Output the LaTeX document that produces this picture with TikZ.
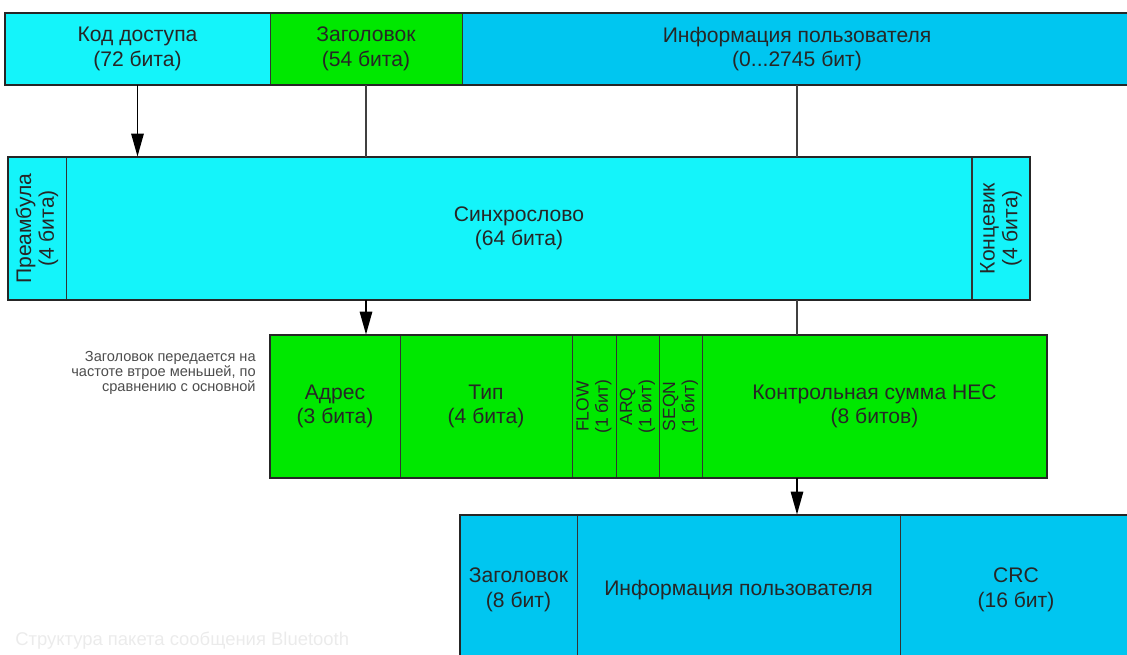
\documentclass[tikz,border=0pt]{standalone}
\usepackage{fontspec}
\setmainfont{Liberation Sans}
\usetikzlibrary{arrows.meta}

\definecolor{accesscyan}{RGB}{20,244,250}
\definecolor{headgreen}{RGB}{0,232,0}
\definecolor{infoblue}{RGB}{0,198,240}

\begin{document}
\begin{tikzpicture}[x=0.02cm, y=-0.02cm, >={Triangle[length=13pt,width=7pt]},
    field/.style={draw=black!80, line width=0.5pt, inner sep=0pt, align=center,
        text=black!85, font=\fontsize{12}{14}\selectfont},
    slim/.style={rotate=90, align=center, inner sep=0pt, text=black!85,
        font=\fontsize{10}{11}\selectfont},
    frame/.style={draw=black!85, line width=1.2pt},
    link/.style={draw=black!75, line width=0.6pt},
    flowarrow/.style={->, draw=black, line width=1pt}]
    \useasboundingbox (0,0) rectangle (1127,655);
    \clip (0,0) rectangle (1127,655);

    % Top: packet
    \node[field, fill=accesscyan, minimum width=5.3cm, minimum height=1.44cm] (access) at (137.5,49) {Код доступа\\(72 бита)};
    \node[field, fill=headgreen, minimum width=3.84cm, minimum height=1.44cm] (head) at (366,49) {Заголовок\\(54 бита)};
    \node[field, fill=infoblue, minimum width=13.4cm, minimum height=1.44cm] (info) at (797,49) {Информация пользователя\\(0...2745 бит)};
    \draw[frame] (access.north west) rectangle (info.south east);

    % Access code
    \node[field, fill=accesscyan, minimum width=1.16cm, minimum height=2.86cm] (pre) at (37,228.5) {};
    \node[field, fill=accesscyan, minimum width=18.12cm, minimum height=2.86cm] (sync) at (519,228.5) {Синхрослово\\(64 бита)};
    \node[field, fill=accesscyan, minimum width=1.16cm, minimum height=2.86cm] (tail) at (1001,228.5) {};
    \node[slim, font=\fontsize{12}{13}\selectfont] (prelabel) at (pre) {Преамбула\\(4 бита)};
    \node[slim, font=\fontsize{12}{13}\selectfont] (taillabel) at (tail) {Концевик\\(4 бита)};
    \draw[frame] (pre.north west) rectangle (tail.south east);

    % Header
    \node[field, fill=headgreen, minimum width=2.6cm, minimum height=2.86cm] (addr) at (335,406.5) {Адрес\\(3 бита)};
    \node[field, fill=headgreen, minimum width=3.44cm, minimum height=2.86cm] (type) at (486,406.5) {Тип\\(4 бита)};
    \node[field, fill=headgreen, minimum width=0.88cm, minimum height=2.86cm] (flow) at (594,406.5) {};
    \node[field, fill=headgreen, minimum width=0.86cm, minimum height=2.86cm] (arq) at (637.5,406.5) {};
    \node[field, fill=headgreen, minimum width=0.86cm, minimum height=2.86cm] (seqn) at (680.5,406.5) {};
    \node[field, fill=headgreen, minimum width=6.9cm, minimum height=2.86cm] (hec) at (874.5,406.5) {Контрольная сумма HEC\\(8 битов)};
    \node[slim] (flowlabel) at (flow) {FLOW\\(1 бит)};
    \node[slim] (arqlabel) at (arq) {ARQ\\(1 бит)};
    \node[slim] (seqnlabel) at (seqn) {SEQN\\(1 бит)};
    \draw[frame] (addr.north west) rectangle (hec.south east);

    \node[anchor=north east, align=right, inner sep=0pt, text=black!70,
        font=\fontsize{8.3}{8.6}\selectfont] (headnote) at (256,351)
        {Заголовок передается на\\частоте втрое меньшей, по\\сравнению с основной};

    % Payload
    \node[field, fill=infoblue, minimum width=2.34cm, minimum height=3cm] (plhead) at (518.5,590) {Заголовок\\(8 бит)};
    \node[field, fill=infoblue, minimum width=6.46cm, minimum height=3cm] (pldata) at (738.5,590) {Информация пользователя};
    \node[field, fill=infoblue, minimum width=4.64cm, minimum height=3cm] (crc) at (1016,590) {CRC\\(16 бит)};
    \draw[frame] (plhead.north west) rectangle (crc.south east);

    \node[anchor=west, inner sep=0pt, text=black!8, font=\fontsize{10.5}{12}\selectfont] (caption) at (15,641)
        {Структура пакета сообщения Bluetooth};

    % Connectors
    \draw[flowarrow] (access.south) -- (access.south |- sync.north);
    \draw[link] (head.south) -- (head.south |- sync.north);
    \draw[link] (info.south) -- (info.south |- sync.north);
    \draw[flowarrow] (head.south |- sync.south) -- (head.south |- type.north);
    \draw[link] (info.south |- sync.south) -- (info.south |- hec.north);
    \draw[flowarrow] (info.south |- hec.south) -- (info.south |- pldata.north);
\end{tikzpicture}
\end{document}
